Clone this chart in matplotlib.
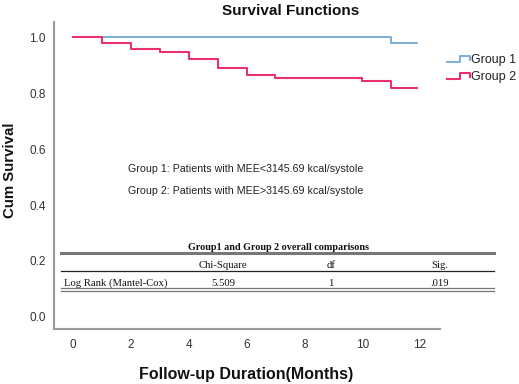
import matplotlib
matplotlib.use("Agg")
import matplotlib.pyplot as plt
from matplotlib.lines import Line2D
from matplotlib.legend_handler import HandlerBase

# ---- data ----
g1_times = [0, 11, 11.9]
g1_surv = [1.0, 0.978, 0.978]
g2_times = [0, 1, 2, 3, 4, 5, 6, 7, 10, 11, 11.9]
g2_surv = [1.0, 0.979, 0.957, 0.946, 0.922, 0.889, 0.864, 0.854, 0.843, 0.818, 0.818]
series_labels = ["Group 1", "Group 2"]
x_ticks = [0, 2, 4, 6, 8, 10, 12]
y_ticks = [0.0, 0.2, 0.4, 0.6, 0.8, 1.0]
note_lines = ["Group 1: Patients with MEE<3145.69 kcal/systole",
              "Group 2: Patients with MEE>3145.69 kcal/systole"]
table_title = "Group1 and Group 2 overall comparisons"
table_header = ["Chi-Square", "df", "Sig."]
table_row_label = "Log Rank (Mantel-Cox)"
table_row_values = ["5.509", "1", ".019"]

BLUE = "#6fa9d8"
RED = "#e8306a"
W, H = 519, 384

plt.rcParams['font.family'] = ['Liberation Sans', 'DejaVu Sans']
fig = plt.figure(figsize=(W / 100, H / 100), dpi=100)
ax = fig.add_axes([54 / W, 1 - 329 / H, (440 - 54) / W, (329 - 22) / H])

ax.step(g1_times, g1_surv, where='post', color=BLUE, lw=1.3, label=series_labels[0])
ax.step(g2_times, g2_surv, where='post', color=RED, lw=1.5, label=series_labels[1])

ax.set_xlim(-0.657, 12.69)
ax.set_ylim(-0.043, 1.054)
ax.set_xticks(x_ticks)
ax.set_yticks(y_ticks)
ax.set_yticklabels([f"{v:.1f}" for v in y_ticks])
for s in ["top", "right"]:
    ax.spines[s].set_visible(False)
for s in ["left", "bottom"]:
    ax.spines[s].set_color("#999999")
    ax.spines[s].set_linewidth(1.5)
ax.tick_params(length=0, labelsize=8.5, labelcolor="#333333")
ax.tick_params(axis='y', pad=6)
ax.tick_params(axis='x', pad=7)


class StepHandler(HandlerBase):
    def create_artists(self, legend, orig_handle, xdescent, ydescent,
                       width, height, fontsize, trans):
        x0, y0 = -xdescent, -ydescent
        xs = [x0, x0 + 0.55 * width, x0 + 0.55 * width, x0 + width, x0 + width]
        ys = [y0 + 0.15 * height, y0 + 0.15 * height, y0 + 0.85 * height,
              y0 + 0.85 * height, y0 + 0.35 * height]
        ln = Line2D(xs, ys, color=orig_handle.get_color(),
                    lw=orig_handle.get_linewidth(), transform=trans)
        return [ln]


handles, labels = ax.get_legend_handles_labels()
leg = fig.legend(handles, labels, loc='upper left',
                 bbox_to_anchor=(441 / W, 1 - 48 / H),
                 frameon=False, fontsize=9, handlelength=1.8,
                 handletextpad=0.12, labelspacing=0.4, borderpad=0,
                 handler_map={Line2D: StepHandler()})
for t in leg.get_texts():
    t.set_color("#222222")

fig.text(291 / W, 1 - 11 / H, "Survival Functions", ha='center', va='center',
         fontsize=11, fontweight='bold', color="#111111")
fig.text(10 / W, 1 - 170 / H, "Cum Survival", ha='center', va='center',
         rotation=90, fontsize=10.8, fontweight='bold', color="#111111")
fig.text(246 / W, 1 - 374 / H, "Follow-up Duration(Months)", ha='center',
         va='center', fontsize=11.5, fontweight='bold', color="#111111")

fig.text(128 / W, 1 - 169 / H, note_lines[0], ha='left', va='center',
         fontsize=7.7, color="#222222")
fig.text(128 / W, 1 - 191 / H, note_lines[1], ha='left', va='center',
         fontsize=7.7, color="#222222")

# ---- table ----
serif = ['Liberation Serif', 'DejaVu Serif']
fig.text(278 / W, 1 - 247 / H, table_title, ha='center', va='center',
         fontsize=7.3, fontweight='bold', family=serif, color="#111111")
col_x = [223, 331, 440]
for cx, txt in zip(col_x, table_header):
    fig.text(cx / W, 1 - 265 / H, txt, ha='center', va='center',
             fontsize=7.7, family=serif, color="#111111")
fig.text(64 / W, 1 - 283 / H, table_row_label, ha='left', va='center',
         fontsize=7.7, family=serif, color="#111111")
for cx, txt in zip(col_x, table_row_values):
    fig.text(cx / W, 1 - 283 / H, txt, ha='center', va='center',
             fontsize=7.7, family=serif, color="#111111")

x0, x1 = 61 / W, 494 / W
fig.add_artist(Line2D([x0, x1], [1 - 253 / H] * 2, color="#777777", lw=2.2))
fig.add_artist(Line2D([x0, x1], [1 - 271 / H] * 2, color="#222222", lw=0.9))
fig.add_artist(Line2D([x0, x1], [1 - 288 / H] * 2, color="#777777", lw=0.9))
fig.add_artist(Line2D([x0, x1], [1 - 291 / H] * 2, color="#777777", lw=0.9))

fig.savefig("out.png", dpi=100)
